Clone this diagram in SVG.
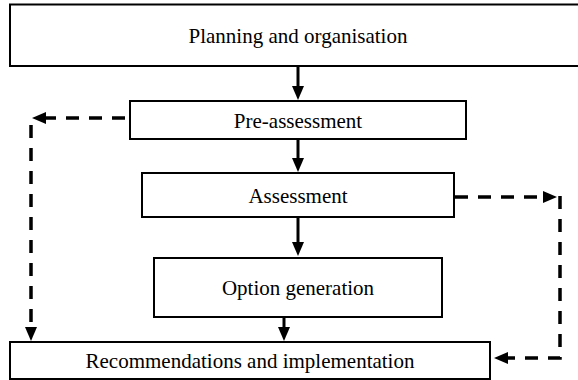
<svg xmlns="http://www.w3.org/2000/svg" width="578" height="380" viewBox="0 0 578 380">
  <style>
    .box { fill: #ffffff; stroke: #000000; stroke-width: 2; }
    .label { font-family: "Liberation Serif", "Times New Roman", serif; font-size: 21px; fill: #000000; text-anchor: middle; }
    .flow { fill: none; stroke: #000000; stroke-width: 3; }
    .feedback { fill: none; stroke: #000000; stroke-width: 3.5; stroke-dasharray: 13 10; }
  </style>
  <defs>
    <marker id="head" viewBox="0 0 14 12" markerWidth="14" markerHeight="12" refX="0" refY="6" orient="auto" markerUnits="userSpaceOnUse">
      <path d="M0,0 L14,6 L0,12 z" fill="#000000"/>
    </marker>
  </defs>
  <rect width="578" height="380" fill="#ffffff"/>

  <g id="planning">
    <rect class="box" x="10" y="4.5" width="572" height="61.5"/>
    <text class="label" x="298" y="43">Planning and organisation</text>
  </g>
  <g id="pre-assessment">
    <rect class="box" x="130" y="101" width="336" height="38"/>
    <text class="label" x="298" y="128">Pre-assessment</text>
  </g>
  <g id="assessment">
    <rect class="box" x="142" y="173" width="312" height="44"/>
    <text class="label" x="298" y="203">Assessment</text>
  </g>
  <g id="option-generation">
    <rect class="box" x="154" y="258" width="288" height="59"/>
    <text class="label" x="298" y="295">Option generation</text>
  </g>
  <g id="recommendations">
    <rect class="box" x="10" y="342" width="480" height="37"/>
    <text class="label" x="250" y="368">Recommendations and implementation</text>
  </g>

  <g id="connectors">
    <path class="flow" d="M298,67 V86" marker-end="url(#head)"/>
    <path class="flow" d="M298,140 V158" marker-end="url(#head)"/>
    <path class="flow" d="M298,218 V242" marker-end="url(#head)"/>
    <path class="flow" d="M284,318 V327" marker-end="url(#head)"/>
    <path class="feedback" d="M125,118 H46" marker-end="url(#head)"/>
    <path class="feedback" d="M31,125 V327" marker-end="url(#head)"/>
    <path class="feedback" d="M455,197 H543" marker-end="url(#head)"/>
    <path class="feedback" d="M560,196 V358 H508" marker-end="url(#head)"/>
  </g>
</svg>
